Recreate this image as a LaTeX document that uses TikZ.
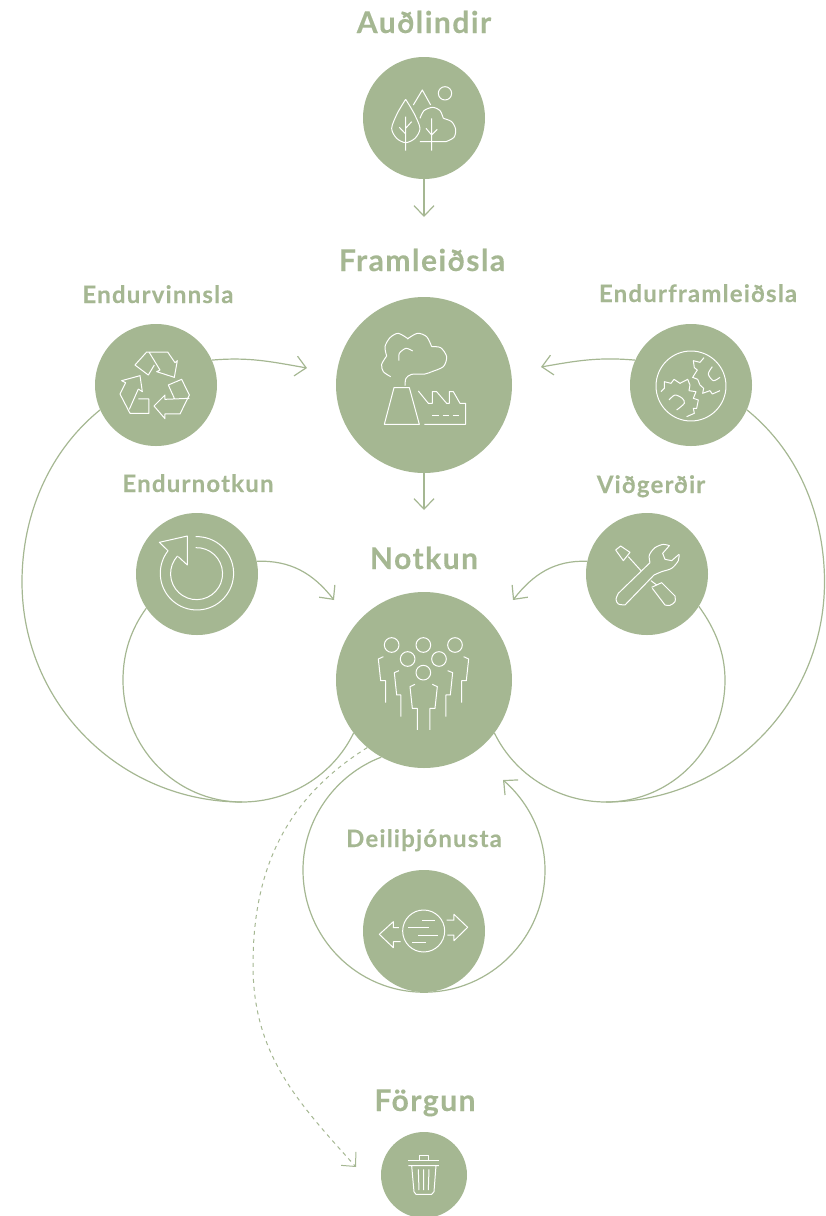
\documentclass[tikz,border=0pt]{standalone}
\usepackage{fontspec}
\setmainfont{Lato}[LetterSpace=5,BoldFeatures={FakeBold=0.3}]
\usepackage{tikz}
\usetikzlibrary{arrows.meta}
\definecolor{sage}{HTML}{A5B792}
\tikzset{
	stage/.style={circle,fill=sage,inner sep=0pt,minimum size=122pt},
	stagebig/.style={circle,fill=sage,inner sep=0pt,minimum size=176pt},
	stagesmall/.style={circle,fill=sage,inner sep=0pt,minimum size=86pt},
	title/.style={text=sage,font=\fontsize{30}{32}\selectfont\bfseries,inner sep=0pt,anchor=base},
	subtitle/.style={text=sage,font=\fontsize{24}{26}\selectfont\bfseries,inner sep=0pt,anchor=base},
	flow/.style={draw=sage,line width=1.2pt,-{Straight Barb[length=10.5pt,width=20pt]}},
	loopline/.style={draw=sage,line width=1.2pt},
	iconat/.style={shift={(#1)},scale=0.3333,yscale=-1},
	icon/.style={draw=white,line width=1pt,line join=round},
}
\begin{document}
\begin{tikzpicture}[x=1pt,y=1pt]
	\useasboundingbox (0,0) rectangle (825,-1216);

	\node[stage] (audlindir) at (424,-118) {};
	\node[stagebig] (framleidsla) at (424,-385) {};
	\node[stage] (endurvinnsla) at (156,-385) {};
	\node[stage] (endurframleidsla) at (691,-385) {};
	\node[stage] (endurnotkun) at (197,-574) {};
	\node[stage] (vidgerdir) at (647,-574) {};
	\node[stagebig] (notkun) at (424,-680) {};
	\node[stage] (deili) at (424,-931) {};
	\node[stagesmall] (forgun) at (424,-1175) {};

	\node[title] (audlindirtext) at (424,-33) {Auðlindir};
	\node[title] (framleidslatext) at (422,-271) {Framleiðsla};
	\node[subtitle] (endurvinnslatext) at (158,-303) {Endurvinnsla};
	\node[subtitle] (endurframleidslatext) at (698,-302) {Endurframleiðsla};
	\node[subtitle] (endurnotkuntext) at (198,-492) {Endurnotkun};
	\node[subtitle] (vidgerdirtext) at (651,-493) {Viðgerðir};
	\node[title] (notkuntext) at (424,-569) {Notkun};
	\node[subtitle] (deilitext) at (424,-847) {Deiliþjónusta};
	\node[title] (forguntext) at (425,-1111) {Förgun};

	\coordinate (tipfram) at (424,-217);
	\coordinate (tipnot) at (424,-510);
	\coordinate (tipvinnsla) at (307,-368);
	\coordinate (tipendurfram) at (541,-367);
	\coordinate (tipnotkun) at (334,-600);
	\coordinate (tipvidgerd) at (513,-600);
	\coordinate (tipdeili) at (503,-780);
	\coordinate (tipforgun) at (356,-1167);
	\coordinate (farleft) at (22,-582);
	\coordinate (farright) at (824.5,-582);
	\coordinate (nearleft) at (123,-680);
	\coordinate (nearright) at (725,-680);
	\coordinate (bottomleft) at (242,-802);
	\coordinate (bottomright) at (606,-802);
	\coordinate (deilileft) at (303,-870);
	\coordinate (deiliright) at (545,-870);
	\coordinate (dashleft) at (253,-965);

	\draw[flow] (audlindir) -- (tipfram);
	\draw[flow] (framleidsla) -- (tipnot);
	\draw[flow] (endurvinnsla.24) to[out=5,in=170] (tipvinnsla);
	\draw[flow] (endurframleidsla.156) to[out=175,in=10] (tipendurfram);
	\draw[flow] (endurnotkun.12) to[out=2,in=128] (tipnotkun);
	\draw[flow] (vidgerdir.168) to[out=178,in=52] (tipvidgerd);

	\draw[loopline] (endurvinnsla.204) to[out=219,in=90,looseness=0.9] (farleft) to[out=-90,in=180] (bottomleft);
	\draw[loopline] (endurnotkun.214) to[out=234,in=90,looseness=0.9] (nearleft) to[out=-90,in=180] (bottomleft) to[out=0,in=244,looseness=0.92] (notkun.217);
	\draw[loopline] (endurframleidsla.-24) to[out=-39,in=90,looseness=0.9] (farright) to[out=-90,in=0] (bottomright);
	\draw[loopline] (vidgerdir.-32) to[out=-54,in=90,looseness=0.9] (nearright) to[out=-90,in=0] (bottomright) to[out=180,in=-64,looseness=0.92] (notkun.-37);
	\draw[flow] (notkun.241) to[out=201,in=90,looseness=0.93] (deilileft) to[out=-90,in=180] (deili.south) to[out=0,in=-90] (deiliright) to[out=90,in=-41,looseness=0.89] (tipdeili);
	\draw[flow,dash pattern=on 4pt off 4pt,line width=1pt] (notkun.230) to[out=212,in=90] (dashleft) to[out=-90,in=132] (tipforgun);

	% audlindir
	\begin{scope}[iconat={340,-50}]
		\draw[icon] plot[smooth] coordinates {(197,148) (172,190) (155,235) (170,265) (197,278) (225,265) (240,235) (222,190) (197,148)};
		\draw[icon] (197,200) -- (197,302) (178,232) -- (197,252) (215,215) -- (197,235);
		\draw[icon] (220,165) -- (247,120) -- (272,165);
		\draw[icon] (315,130) circle[radius=20pt];
		\draw[icon] (240,275) -- (318,275) plot[smooth] coordinates {(318,275) (342,262) (347,238) (335,215) (310,205)};
		\draw[icon] plot[smooth] coordinates {(240,205) (252,182) (278,172) (300,182) (310,205)};
		\draw[icon] (275,205) -- (275,302) (258,235) -- (275,255) (292,238) -- (275,255);
	\end{scope}
	% framleidsla
	\begin{scope}[iconat={330,-295}]
		\draw[icon] plot[smooth] coordinates {(182,245) (160,230) (155,208) (170,183)};
		\draw[icon] plot[smooth] coordinates {(170,183) (165,155) (180,128) (205,115) (235,132)};
		\draw[icon] plot[smooth] coordinates {(232,132) (262,115) (290,125) (305,155)};
		\draw[icon] plot[smooth] coordinates {(305,155) (332,158) (350,185) (340,215) (305,230)};
		\draw[icon] plot[smooth] coordinates {(305,230) (285,237) (245,238) (228,250) (225,272)};
		\draw[icon] plot[smooth] coordinates {(207,197) (208,175) (228,160) (248,168)};
		\draw[icon] (192,278) -- (238,278) -- (268,388) -- (163,388) -- cycle;
		\draw[icon] (265,288) -- (295,325) -- (307,325) -- (307,290) -- (320,290) -- (350,325) -- (358,325) -- (358,290) -- (370,290) -- (390,325) -- (407,325) -- (407,388) -- (283,388);
		\draw[icon] (307,362) -- (328,362) (338,362) -- (358,362) (368,362) -- (387,362);
	\end{scope}
	% endurvinnsla
	\begin{scope}[iconat={85,-320}]
		\draw[icon] (208,135) -- (190,165) -- (150,135) -- (185,96) -- (248,96) -- (270,128) -- (277,122) -- (268,172) -- (215,155) -- (225,150) -- (192,96);
		\draw[icon] (268,235) -- (250,195) -- (290,178) -- (313,225) -- (285,282) -- (240,282) -- (240,296) -- (207,258) -- (240,225) -- (240,238) -- (313,235);
		\draw[icon] (160,207) -- (172,215) -- (165,167) -- (110,182) -- (122,188) -- (105,222) -- (135,280) -- (192,280) -- (192,237) -- (160,237);
		\draw[icon] (160,207) -- (133,268);
	\end{scope}
	% endurframleidsla
	\begin{scope}[iconat={625,-320}]
		\draw[icon] (198,198) circle[radius=105pt];
		\draw[icon] (237,113) -- (225,127) -- (205,122) -- (208,143) -- (217,150) -- (203,172) -- (218,178) -- (225,195) -- (236,205) -- (233,220) -- (255,212) -- (262,222) -- (285,212);
		\draw[icon] (108,215) -- (118,205) -- (118,185) -- (138,190) -- (147,178) -- (165,190) -- (188,178) -- (195,195) -- (192,212) -- (213,215) -- (205,235) -- (220,240) -- (215,265) -- (205,265) -- (208,280) -- (185,290);
		\draw[icon] plot[smooth] coordinates {(262,140) (250,162) (265,182) (285,172)};
		\draw[icon] plot[smooth] coordinates {(132,240) (150,225) (172,235) (178,250) (155,270)};
	\end{scope}
	% endurnotkun
	\begin{scope}[iconat={130,-510}]
		\draw[icon] (197,80) arc[start angle=-92,end angle=218,radius=110pt] -- (88,97) -- (172,78) -- (172,165) -- (145,140);
		\draw[icon] (197,113) arc[start angle=-92,end angle=223,radius=78pt];
	\end{scope}
	% vidgerdir
	\begin{scope}[iconat={580,-510}]
		\draw[icon] (107,120) -- (122,108) -- (150,127) -- (130,152) -- cycle;
		\draw[icon] (145,140) -- (183,182) (213,212) -- (230,225);
		\draw[icon] (215,232) -- (245,218) -- (285,258) plot[smooth] coordinates {(285,258) (285,275) (270,286) (255,285)} -- (217,235);
		\draw[icon] (210,158) -- (115,250) plot[smooth] coordinates {(115,250) (108,268) (115,282) (135,285)} -- (222,195);
		\draw[icon] plot[smooth] coordinates {(210,158) (208,135) (225,113) (250,103) (268,107)} -- (248,130) -- (255,148) -- (275,152) -- (297,133);
		\draw[icon] plot[smooth] coordinates {(297,133) (295,152) (275,175) (245,185) (222,195)};
	\end{scope}
	% notkun
	\begin{scope}[iconat={335,-590}]
		\foreach \hx/\hy in {170/165,265/165,360/165,218/207,312/207,265/248}
			\draw[icon] (\hx,\hy) circle[radius=22pt];
		\draw[icon] (240,283) -- (225,290) -- (232,355) -- (247,355) -- (247,420);
		\draw[icon] (292,283) -- (307,290) -- (300,355) -- (285,355) -- (285,420);
		\draw[icon] (192,242) -- (178,248) -- (185,315) -- (198,315) -- (198,380);
		\draw[icon] (338,242) -- (353,248) -- (346,315) -- (333,315) -- (333,380);
		\draw[icon] (145,200) -- (130,207) -- (137,272) -- (152,272) -- (152,338);
		\draw[icon] (386,200) -- (401,207) -- (394,272) -- (380,272) -- (380,338);
	\end{scope}
	% deili
	\begin{scope}[iconat={355,-865}]
		\draw[icon] (206,198) circle[radius=63pt];
		\draw[icon] (202,165) -- (240,165) (160,187) -- (222,187) (190,210) -- (250,210) (172,232) -- (212,232);
		\draw[icon] (132,188) -- (115,188) -- (115,170) -- (73,208) -- (115,248) -- (115,230) -- (137,230);
		\draw[icon] (275,165) -- (297,165) -- (297,148) -- (338,187) -- (297,227) -- (297,210) -- (277,210);
	\end{scope}
	% forgun
	\begin{scope}[iconat={330,-1090}]
		\draw[icon] (235,212) -- (327,212) (268,212) -- (268,195) -- (295,195) -- (295,212);
		\draw[icon] (235,227) -- (327,227) (245,227) -- (252,305) -- (258,313) -- (305,313) -- (312,305) -- (318,227);
		\draw[icon] (265,238) -- (267,300) (281,238) -- (281,300) (297,238) -- (295,300);
	\end{scope}
\end{tikzpicture}
\end{document}
